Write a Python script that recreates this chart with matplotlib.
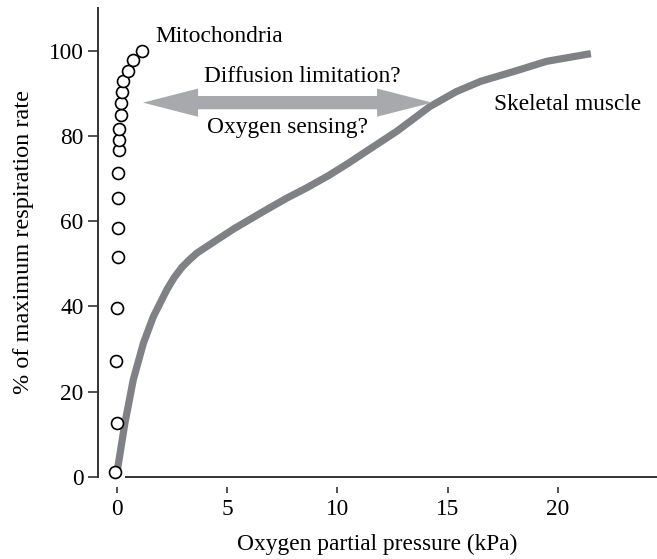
import matplotlib
matplotlib.use("Agg")
import matplotlib.pyplot as plt

plt.rcParams['font.family'] = ['Liberation Serif', 'DejaVu Serif']

# isolated mitochondria (open circles)
mito_po2 = [-0.1, 0.01, -0.05, 0.0, 0.03, 0.03, 0.03, 0.06, 0.09, 0.09,
            0.1, 0.17, 0.18, 0.21, 0.29, 0.49, 0.71, 1.12]
mito_rate = [1.2, 12.7, 27.2, 39.6, 51.7, 58.4, 65.4, 71.3, 76.8, 79.1,
             81.7, 85.0, 87.7, 90.4, 92.8, 95.3, 97.7, 99.8]

# skeletal muscle (thick grey curve)
muscle_po2 = [0.0, 0.36, 0.74, 1.2, 1.65, 2.26, 2.6, 2.95, 3.3, 3.62, 4.53,
              5.3, 6.65, 7.7, 8.6, 9.6, 10.5, 11.2, 12.7, 14.2, 15.4, 16.5,
              18.0, 19.5, 21.5]
muscle_rate = [1.0, 12.6, 22.8, 31.4, 37.6, 43.9, 46.8, 49.2, 51.0, 52.5,
               55.6, 58.2, 62.3, 65.4, 67.8, 70.7, 73.6, 76.0, 81.1, 86.9,
               90.4, 92.8, 95.1, 97.5, 99.3]

xticks = [0, 5, 10, 15, 20]
yticks = [0, 20, 40, 60, 80, 100]

fig = plt.figure(figsize=(6.57, 5.59), dpi=100)
ax = fig.add_axes([98 / 657, 1 - 477 / 559, 559 / 657, 469 / 559])
ax.set_xlim(-0.86, 24.5)
ax.set_ylim(0, 110)

axis_col = '#333333'
fs = 16.8

ax.plot(muscle_po2, muscle_rate, color='#808184', lw=5.2,
        solid_capstyle='butt', solid_joinstyle='round', zorder=2,
        clip_on=False)
ax.plot(mito_po2, mito_rate, 'o', ms=8.6, mfc='white', mec='black',
        mew=1.2, zorder=4, clip_on=False)

# double headed arrow: two overlapping arrows, one each way
arr_col = '#a7a9ac'
left_tip, right_tip = 1.18, 14.3
head_len = 2.5
ax.arrow(left_tip + head_len, 87.8, right_tip - left_tip - head_len, 0,
         width=3.05, head_width=6.6, head_length=head_len,
         length_includes_head=True, color=arr_col, lw=0, zorder=3)
ax.arrow(right_tip - head_len, 87.8, left_tip - right_tip + head_len, 0,
         width=3.05, head_width=6.6, head_length=head_len,
         length_includes_head=True, color=arr_col, lw=0, zorder=3)

ax.text(8.4, 93.9, 'Diffusion limitation?', ha='center', va='center',
        fontsize=fs)
ax.text(7.73, 81.9, 'Oxygen sensing?', ha='center', va='center', fontsize=fs)
ax.text(1.73, 103.3, 'Mitochondria', ha='left', va='center', fontsize=fs)
ax.text(17.1, 87.3, 'Skeletal muscle', ha='left', va='center', fontsize=fs)

# axes styling
for s in ('top', 'right'):
    ax.spines[s].set_visible(False)
ax.spines['bottom'].set_visible(False)
ax.spines['bottom'].set_position(('outward', 7))
ax.spines['left'].set_color(axis_col)
ax.spines['left'].set_linewidth(1.4)
ax.hlines(0, 0.36, 24.5, color=axis_col, lw=1.4, clip_on=False, zorder=1)

ax.set_xticks(xticks)
ax.set_yticks(yticks)
ax.tick_params(axis='x', direction='out', length=4.5, width=1.2,
               color=axis_col, labelsize=fs, pad=4)
ax.tick_params(axis='y', direction='out', length=7, width=1.2,
               color=axis_col, labelsize=fs, pad=3.5)

ax.set_xlabel('Oxygen partial pressure (kPa)', fontsize=fs, labelpad=10)
ax.set_ylabel('% of maximum respiration rate', fontsize=17.5, labelpad=10.5)

fig.savefig('out.png', dpi=100)
